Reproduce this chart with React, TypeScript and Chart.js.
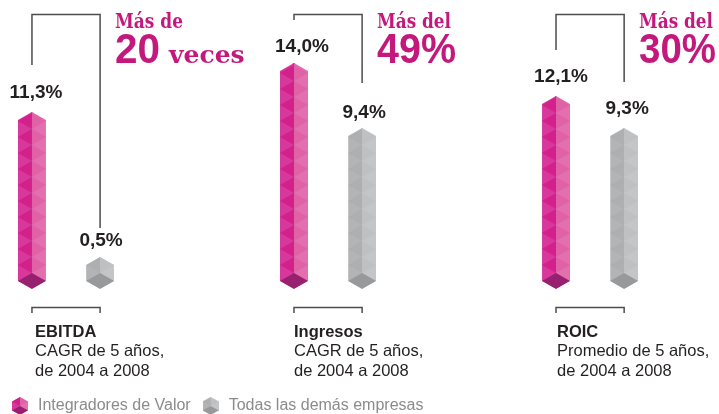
import React, { useEffect, useRef } from "react";
import { Chart, registerables, BarController, BarElement } from "chart.js";

Chart.register(...registerables);

const metricNames = ["EBITDA", "Ingresos", "ROIC"];
const metricNotes = [
  ["CAGR de 5 años,", "de 2004 a 2008"],
  ["CAGR de 5 años,", "de 2004 a 2008"],
  ["Promedio de 5 años,", "de 2004 a 2008"],
];
const seriesNames = ["Integradores de Valor", "Todas las demás empresas"];
const integradores = [11.3, 14.0, 12.1];
const demas = [0.5, 9.4, 9.3];
const calloutTop = ["Más de", "Más del", "Más del"];
const calloutBig = ["20", "49%", "30%"];
const calloutTail = ["veces", "", ""];

// one hidden y axis per metric: [min, max, value at the foot of the column]
const yRanges = [
  [-9.25, 19.64, -1.88],
  [-9.0, 18.46, -1.99],
  [-13.45, 20.5, -4.79],
];

const MAGENTA = { a: "#d8389b", b: "#d4208a", c: "#e36fae", d: "#df62a7", e: "#97206f" };
const GREY = { a: "#b3b4b6", b: "#aeafb1", c: "#c4c5c7", d: "#bfc0c2", e: "#98999b" };
const INK = "#231f20";
const ACCENT = "#c4197c";

function drawHex(ctx: any, cx: number, top: number, base: number, w: number, r: number, p: any) {
  ctx.save();
  ctx.beginPath();
  ctx.moveTo(cx, top);
  ctx.lineTo(cx + w, top + r);
  ctx.lineTo(cx + w, base - r);
  ctx.lineTo(cx, base);
  ctx.lineTo(cx - w, base - r);
  ctx.lineTo(cx - w, top + r);
  ctx.closePath();
  ctx.clip();
  ctx.fillStyle = p.a;
  ctx.fillRect(cx - w, top, w, base - top);
  ctx.fillStyle = p.c;
  ctx.fillRect(cx, top, w, base - top);
  for (let c = base - 3 * r; c > top - r; c -= 2 * r) {
    ctx.fillStyle = p.b;
    ctx.beginPath();
    ctx.moveTo(cx, c - r);
    ctx.lineTo(cx, c + r);
    ctx.lineTo(cx - w, c);
    ctx.closePath();
    ctx.fill();
    ctx.fillStyle = p.d;
    ctx.beginPath();
    ctx.moveTo(cx, c - r);
    ctx.lineTo(cx, c + r);
    ctx.lineTo(cx + w, c);
    ctx.closePath();
    ctx.fill();
  }
  ctx.fillStyle = p.e;
  ctx.beginPath();
  ctx.moveTo(cx, base);
  ctx.lineTo(cx - w, base - r);
  ctx.lineTo(cx, base - 2 * r);
  ctx.lineTo(cx + w, base - r);
  ctx.closePath();
  ctx.fill();
  ctx.restore();
}

class HexBarElement extends BarElement {
  static id = "hexBarElement";
  static defaults = { ...BarElement.defaults };
  static defaultRoutes = BarElement.defaultRoutes;
  draw(ctx: any) {
    const { x, y, base, width } = (this as any).getProps(["x", "y", "base", "width"], true);
    const palette = (this as any).options.backgroundColor === GREY.a ? GREY : MAGENTA;
    drawHex(ctx, x, y, base, width / 2, 8, palette);
  }
}

class HexBarController extends BarController {
  static id = "hexBar";
  static defaults = { ...BarController.defaults, dataElementType: "hexBarElement" };
  static overrides = BarController.overrides;
}
Chart.register(HexBarElement as any, HexBarController as any);

function hexIcon(p: any) {
  const c = document.createElement("canvas");
  c.width = 16;
  c.height = 18;
  drawHex(c.getContext("2d"), 8, 0, 18, 8, 4.5, p);
  return c;
}

const sans = '"Liberation Sans", Arial, sans-serif';
const slab = '"DejaVu Serif", serif';

// per-label nudges, as the labels sit off-centre in the picture
const labelShift = [
  [4, -14],
  [1, -11],
  [8, -11],
  [2, -10],
  [5, -14],
  [3, -14],
];
const armLength = [
  [65, 228],
  [20, 83],
  [50, 82],
];
const calloutX = [115, 377, 639];
const calloutTopW = [68, 74, 74];
const calloutBigW = [45, 79, 77];
const noteShift = [3, 0, 1];

const annotate = {
  id: "annotate",
  afterDatasetsDraw(chart: any) {
    const ctx = chart.ctx;
    ctx.save();
    ctx.textBaseline = "alphabetic";
    chart.data.datasets.forEach((ds: any, i: number) => {
      const el = chart.getDatasetMeta(i).data[0];
      const [dx, dy] = labelShift[i];
      ctx.font = `bold 19px ${sans}`;
      ctx.fillStyle = INK;
      ctx.textAlign = "center";
      ctx.fillText(ds.data[0].y.toFixed(1).replace(".", ",") + "%", el.x + dx, el.y + dy);
    });
    metricNames.forEach((name, g) => {
      const a = chart.getDatasetMeta(g * 2).data[0].x;
      const b = chart.getDatasetMeta(g * 2 + 1).data[0].x;
      ctx.strokeStyle = "#4d4d4f";
      ctx.lineWidth = 1.5;
      ctx.beginPath();
      ctx.moveTo(a, armLength[g][0]);
      ctx.lineTo(a, 14.5);
      ctx.lineTo(b, 14.5);
      ctx.lineTo(b, armLength[g][1]);
      ctx.stroke();
      ctx.beginPath();
      ctx.moveTo(a, 313);
      ctx.lineTo(a, 307.5);
      ctx.lineTo(b, 307.5);
      ctx.lineTo(b, 313);
      ctx.stroke();
      ctx.textAlign = "left";
      ctx.fillStyle = INK;
      ctx.font = `bold 16.5px ${sans}`;
      ctx.fillText(name, a + noteShift[g], 337);
      ctx.font = `16.5px ${sans}`;
      metricNotes[g].forEach((t, l) => ctx.fillText(t, a + noteShift[g], 356 + l * 20));
      ctx.fillStyle = ACCENT;
      ctx.font = `bold 20px ${slab}`;
      ctx.fillText(calloutTop[g], calloutX[g], 28, calloutTopW[g]);
      ctx.font = `bold 42px ${sans}`;
      ctx.fillText(calloutBig[g], calloutX[g], 63, calloutBigW[g]);
      if (calloutTail[g]) {
        ctx.font = `bold 25px ${slab}`;
        ctx.fillText(calloutTail[g], calloutX[g] + 54, 63);
      }
    });
    ctx.restore();
  },
};

export default function App() {
  const ref = useRef<HTMLCanvasElement>(null);
  useEffect(() => {
    document.body.style.margin = "0";
    const datasets: any[] = [];
    metricNames.forEach((name, g) => {
      [integradores, demas].forEach((vals, s) => {
        datasets.push({
          label: `${name} · ${seriesNames[s]}`,
          data: [{ x: g + s * 0.26, y: vals[g] }],
          yAxisID: "y" + g,
          base: yRanges[g][2],
          backgroundColor: s === 0 ? MAGENTA.a : GREY.a,
          barThickness: 28,
          grouped: false,
        });
      });
    });
    const scales: any = {
      x: { type: "linear", display: false, min: -0.122, max: 2.622, offset: false },
    };
    metricNames.forEach((_, g) => {
      scales["y" + g] = { type: "linear", display: false, min: yRanges[g][0], max: yRanges[g][1] };
    });
    const chart = new Chart(ref.current as any, {
      type: "hexBar" as any,
      data: { datasets },
      options: {
        animation: false,
        responsive: false,
        layout: { padding: { bottom: -10 } },
        scales,
        plugins: {
          tooltip: { enabled: false },
          legend: {
            position: "bottom",
            align: "start",
            labels: {
              usePointStyle: true,
              pointStyleWidth: 20,
              padding: 10,
              color: "#8b8b8b",
              font: { family: sans, size: 16 },
              generateLabels: () =>
                seriesNames.map((text, s) => ({
                  text,
                  fontColor: "#8b8b8b",
                  pointStyle: hexIcon(s === 0 ? MAGENTA : GREY),
                  hidden: false,
                  datasetIndex: s,
                  lineWidth: 0,
                })) as any,
            },
          },
        },
      },
      plugins: [annotate],
    } as any);
    return () => chart.destroy();
  }, []);
  return <canvas ref={ref} width={719} height={414} style={{ position: "absolute", left: 0, top: 0 }} />;
}
